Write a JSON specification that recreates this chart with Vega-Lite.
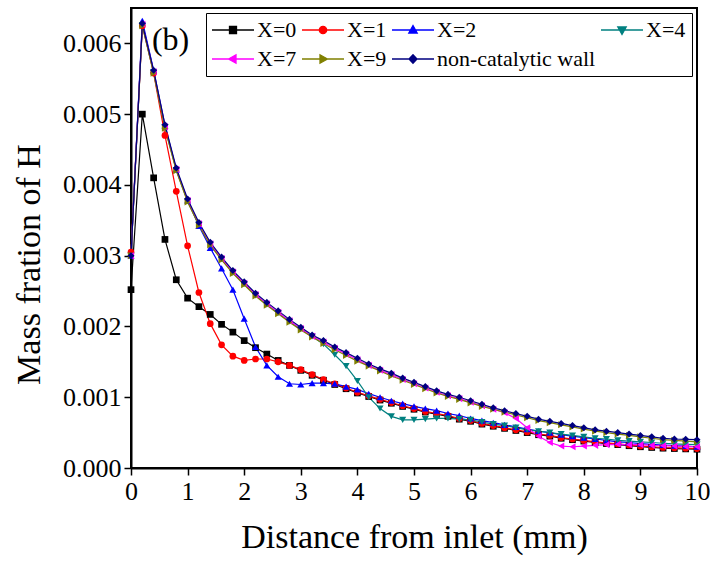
{
"$schema": "https://vega.github.io/schema/vega-lite/v6.json",
"width": 566, "height": 460,
"autosize": {"type": "none"},
"padding": {"left": 131, "top": 8, "right": 13, "bottom": 97},
"background": "white",
"config": {
 "view": {"stroke": "black", "strokeWidth": 2},
 "font": "Liberation Serif",
 "axis": {"grid": false, "domainColor": "black", "domainWidth": 2, "tickColor": "black", "tickWidth": 1.5, "labelColor": "black", "labelFont": "Liberation Serif", "labelFontSize": 26, "labelFlush": false, "labelOverlap": false, "titleFont": "Liberation Serif", "titleFontSize": 34, "titleFontWeight": "normal", "titleColor": "black"},
 "legend": {"orient": "top-right", "offset": 5, "direction": "horizontal", "columns": 4, "gridAlign": "none", "strokeColor": "black", "strokeWidth": 1, "fillColor": "white", "padding": 6, "labelFont": "Liberation Serif", "labelFontSize": 22, "labelColor": "black", "labelLimit": 300, "symbolSize": 400, "symbolStrokeWidth": 1.3, "labelOffset": 23, "columnPadding": 2, "rowPadding": 7}
},
"datasets": {
"main": [
{"s":"X=0","x":0,"y":0.00252},{"s":"X=0","x":0.2,"y":0.005},{"s":"X=0","x":0.4,"y":0.0041},{"s":"X=0","x":0.6,"y":0.00323},{"s":"X=0","x":0.8,"y":0.00266},{"s":"X=0","x":1,"y":0.0024},{"s":"X=0","x":1.2,"y":0.00228},{"s":"X=0","x":1.4,"y":0.00217},{"s":"X=0","x":1.6,"y":0.00203},{"s":"X=0","x":1.8,"y":0.00192},{"s":"X=0","x":2,"y":0.0018},{"s":"X=0","x":2.2,"y":0.0017},{"s":"X=0","x":2.4,"y":0.00161},{"s":"X=0","x":2.6,"y":0.00152},{"s":"X=0","x":2.8,"y":0.00145},{"s":"X=0","x":3,"y":0.00138},{"s":"X=0","x":3.2,"y":0.00131},{"s":"X=0","x":3.4,"y":0.00124},{"s":"X=0","x":3.6,"y":0.00118},{"s":"X=0","x":3.8,"y":0.00112},{"s":"X=0","x":4,"y":0.00106},{"s":"X=0","x":4.2,"y":0.00101},{"s":"X=0","x":4.4,"y":0.00096},{"s":"X=0","x":4.6,"y":0.000915},{"s":"X=0","x":4.8,"y":0.00087},{"s":"X=0","x":5,"y":0.00083},{"s":"X=0","x":5.2,"y":0.00079},{"s":"X=0","x":5.4,"y":0.00076},{"s":"X=0","x":5.6,"y":0.00073},{"s":"X=0","x":5.8,"y":0.00069},{"s":"X=0","x":6,"y":0.00066},{"s":"X=0","x":6.2,"y":0.00062},{"s":"X=0","x":6.4,"y":0.00059},{"s":"X=0","x":6.6,"y":0.00056},{"s":"X=0","x":6.8,"y":0.00053},{"s":"X=0","x":7,"y":0.0005},{"s":"X=0","x":7.2,"y":0.00047},{"s":"X=0","x":7.4,"y":0.00045},{"s":"X=0","x":7.6,"y":0.00042},{"s":"X=0","x":7.8,"y":0.0004},{"s":"X=0","x":8,"y":0.00038},{"s":"X=0","x":8.2,"y":0.00036},{"s":"X=0","x":8.4,"y":0.000345},{"s":"X=0","x":8.6,"y":0.00033},{"s":"X=0","x":8.8,"y":0.000315},{"s":"X=0","x":9,"y":0.0003},{"s":"X=0","x":9.2,"y":0.00029},{"s":"X=0","x":9.4,"y":0.00028},{"s":"X=0","x":9.6,"y":0.000275},{"s":"X=0","x":9.8,"y":0.00027},{"s":"X=0","x":10,"y":0.000265},
{"s":"X=1","x":0,"y":0.00305},{"s":"X=1","x":0.2,"y":0.00625},{"s":"X=1","x":0.4,"y":0.00558},{"s":"X=1","x":0.6,"y":0.0047},{"s":"X=1","x":0.8,"y":0.00391},{"s":"X=1","x":1,"y":0.00314},{"s":"X=1","x":1.2,"y":0.00248},{"s":"X=1","x":1.4,"y":0.00204},{"s":"X=1","x":1.6,"y":0.00174},{"s":"X=1","x":1.8,"y":0.00158},{"s":"X=1","x":2,"y":0.00152},{"s":"X=1","x":2.2,"y":0.00154},{"s":"X=1","x":2.4,"y":0.00154},{"s":"X=1","x":2.6,"y":0.0015},{"s":"X=1","x":2.8,"y":0.00145},{"s":"X=1","x":3,"y":0.00139},{"s":"X=1","x":3.2,"y":0.00132},{"s":"X=1","x":3.4,"y":0.00125},{"s":"X=1","x":3.6,"y":0.00119},{"s":"X=1","x":3.8,"y":0.00113},{"s":"X=1","x":4,"y":0.00107},{"s":"X=1","x":4.2,"y":0.00102},{"s":"X=1","x":4.4,"y":0.00097},{"s":"X=1","x":4.6,"y":0.000925},{"s":"X=1","x":4.8,"y":0.00088},{"s":"X=1","x":5,"y":0.00084},{"s":"X=1","x":5.2,"y":0.0008},{"s":"X=1","x":5.4,"y":0.00077},{"s":"X=1","x":5.6,"y":0.00074},{"s":"X=1","x":5.8,"y":0.0007},{"s":"X=1","x":6,"y":0.00067},{"s":"X=1","x":6.2,"y":0.00063},{"s":"X=1","x":6.4,"y":0.0006},{"s":"X=1","x":6.6,"y":0.00057},{"s":"X=1","x":6.8,"y":0.00054},{"s":"X=1","x":7,"y":0.00051},{"s":"X=1","x":7.2,"y":0.00048},{"s":"X=1","x":7.4,"y":0.00046},{"s":"X=1","x":7.6,"y":0.00043},{"s":"X=1","x":7.8,"y":0.00041},{"s":"X=1","x":8,"y":0.00039},{"s":"X=1","x":8.2,"y":0.00037},{"s":"X=1","x":8.4,"y":0.000355},{"s":"X=1","x":8.6,"y":0.00034},{"s":"X=1","x":8.8,"y":0.000325},{"s":"X=1","x":9,"y":0.00031},{"s":"X=1","x":9.2,"y":0.0003},{"s":"X=1","x":9.4,"y":0.00029},{"s":"X=1","x":9.6,"y":0.000285},{"s":"X=1","x":9.8,"y":0.00028},{"s":"X=1","x":10,"y":0.000275},
{"s":"X=2","x":0,"y":0.003},{"s":"X=2","x":0.2,"y":0.00632},{"s":"X=2","x":0.4,"y":0.00562},{"s":"X=2","x":0.6,"y":0.00484},{"s":"X=2","x":0.8,"y":0.00422},{"s":"X=2","x":1,"y":0.00378},{"s":"X=2","x":1.2,"y":0.00342},{"s":"X=2","x":1.4,"y":0.00311},{"s":"X=2","x":1.6,"y":0.00282},{"s":"X=2","x":1.8,"y":0.00252},{"s":"X=2","x":2,"y":0.00211},{"s":"X=2","x":2.2,"y":0.00171},{"s":"X=2","x":2.4,"y":0.00145},{"s":"X=2","x":2.6,"y":0.00129},{"s":"X=2","x":2.8,"y":0.00119},{"s":"X=2","x":3,"y":0.00118},{"s":"X=2","x":3.2,"y":0.0012},{"s":"X=2","x":3.4,"y":0.0012},{"s":"X=2","x":3.6,"y":0.00119},{"s":"X=2","x":3.8,"y":0.00115},{"s":"X=2","x":4,"y":0.00111},{"s":"X=2","x":4.2,"y":0.00105},{"s":"X=2","x":4.4,"y":0.001},{"s":"X=2","x":4.6,"y":0.00095},{"s":"X=2","x":4.8,"y":0.00091},{"s":"X=2","x":5,"y":0.00087},{"s":"X=2","x":5.2,"y":0.00084},{"s":"X=2","x":5.4,"y":0.00081},{"s":"X=2","x":5.6,"y":0.00077},{"s":"X=2","x":5.8,"y":0.00074},{"s":"X=2","x":6,"y":0.0007},{"s":"X=2","x":6.2,"y":0.00067},{"s":"X=2","x":6.4,"y":0.00064},{"s":"X=2","x":6.6,"y":0.00061},{"s":"X=2","x":6.8,"y":0.00058},{"s":"X=2","x":7,"y":0.00055},{"s":"X=2","x":7.2,"y":0.00052},{"s":"X=2","x":7.4,"y":0.0005},{"s":"X=2","x":7.6,"y":0.00047},{"s":"X=2","x":7.8,"y":0.00045},{"s":"X=2","x":8,"y":0.00043},{"s":"X=2","x":8.2,"y":0.00041},{"s":"X=2","x":8.4,"y":0.00039},{"s":"X=2","x":8.6,"y":0.00037},{"s":"X=2","x":8.8,"y":0.00036},{"s":"X=2","x":9,"y":0.000345},{"s":"X=2","x":9.2,"y":0.000335},{"s":"X=2","x":9.4,"y":0.000325},{"s":"X=2","x":9.6,"y":0.000315},{"s":"X=2","x":9.8,"y":0.00031},{"s":"X=2","x":10,"y":0.0003},
{"s":"X=4","x":0,"y":0.003},{"s":"X=4","x":0.2,"y":0.00626},{"s":"X=4","x":0.4,"y":0.00559},{"s":"X=4","x":0.6,"y":0.00481},{"s":"X=4","x":0.8,"y":0.00421},{"s":"X=4","x":1,"y":0.00377},{"s":"X=4","x":1.2,"y":0.00344},{"s":"X=4","x":1.4,"y":0.00316},{"s":"X=4","x":1.6,"y":0.00295},{"s":"X=4","x":1.8,"y":0.00276},{"s":"X=4","x":2,"y":0.0026},{"s":"X=4","x":2.2,"y":0.00244},{"s":"X=4","x":2.4,"y":0.00231},{"s":"X=4","x":2.6,"y":0.00219},{"s":"X=4","x":2.8,"y":0.00207},{"s":"X=4","x":3,"y":0.00196},{"s":"X=4","x":3.2,"y":0.00186},{"s":"X=4","x":3.4,"y":0.00175},{"s":"X=4","x":3.6,"y":0.0016},{"s":"X=4","x":3.8,"y":0.00144},{"s":"X=4","x":4,"y":0.00123},{"s":"X=4","x":4.2,"y":0.001},{"s":"X=4","x":4.4,"y":0.00084},{"s":"X=4","x":4.6,"y":0.00073},{"s":"X=4","x":4.8,"y":0.00068},{"s":"X=4","x":5,"y":0.00068},{"s":"X=4","x":5.2,"y":0.00069},{"s":"X=4","x":5.4,"y":0.0007},{"s":"X=4","x":5.6,"y":0.0007},{"s":"X=4","x":5.8,"y":0.00069},{"s":"X=4","x":6,"y":0.00068},{"s":"X=4","x":6.2,"y":0.00065},{"s":"X=4","x":6.4,"y":0.00062},{"s":"X=4","x":6.6,"y":0.0006},{"s":"X=4","x":6.8,"y":0.00057},{"s":"X=4","x":7,"y":0.00054},{"s":"X=4","x":7.2,"y":0.00052},{"s":"X=4","x":7.4,"y":0.0005},{"s":"X=4","x":7.6,"y":0.00048},{"s":"X=4","x":7.8,"y":0.00046},{"s":"X=4","x":8,"y":0.00044},{"s":"X=4","x":8.2,"y":0.00042},{"s":"X=4","x":8.4,"y":0.00041},{"s":"X=4","x":8.6,"y":0.00039},{"s":"X=4","x":8.8,"y":0.00038},{"s":"X=4","x":9,"y":0.00037},{"s":"X=4","x":9.2,"y":0.00036},{"s":"X=4","x":9.4,"y":0.00035},{"s":"X=4","x":9.6,"y":0.00034},{"s":"X=4","x":9.8,"y":0.000335},{"s":"X=4","x":10,"y":0.00033},
{"s":"X=7","x":0,"y":0.003},{"s":"X=7","x":0.2,"y":0.00627},{"s":"X=7","x":0.4,"y":0.0056},{"s":"X=7","x":0.6,"y":0.00482},{"s":"X=7","x":0.8,"y":0.00422},{"s":"X=7","x":1,"y":0.00378},{"s":"X=7","x":1.2,"y":0.00345},{"s":"X=7","x":1.4,"y":0.00317},{"s":"X=7","x":1.6,"y":0.00296},{"s":"X=7","x":1.8,"y":0.00277},{"s":"X=7","x":2,"y":0.00261},{"s":"X=7","x":2.2,"y":0.00245},{"s":"X=7","x":2.4,"y":0.00232},{"s":"X=7","x":2.6,"y":0.0022},{"s":"X=7","x":2.8,"y":0.00208},{"s":"X=7","x":3,"y":0.00197},{"s":"X=7","x":3.2,"y":0.00186},{"s":"X=7","x":3.4,"y":0.00178},{"s":"X=7","x":3.6,"y":0.00169},{"s":"X=7","x":3.8,"y":0.00161},{"s":"X=7","x":4,"y":0.00153},{"s":"X=7","x":4.2,"y":0.00145},{"s":"X=7","x":4.4,"y":0.00138},{"s":"X=7","x":4.6,"y":0.00132},{"s":"X=7","x":4.8,"y":0.00125},{"s":"X=7","x":5,"y":0.00119},{"s":"X=7","x":5.2,"y":0.00113},{"s":"X=7","x":5.4,"y":0.00107},{"s":"X=7","x":5.6,"y":0.00102},{"s":"X=7","x":5.8,"y":0.00098},{"s":"X=7","x":6,"y":0.00093},{"s":"X=7","x":6.2,"y":0.00088},{"s":"X=7","x":6.4,"y":0.00083},{"s":"X=7","x":6.6,"y":0.00078},{"s":"X=7","x":6.8,"y":0.0007},{"s":"X=7","x":7,"y":0.00057},{"s":"X=7","x":7.2,"y":0.00045},{"s":"X=7","x":7.4,"y":0.00036},{"s":"X=7","x":7.6,"y":0.00031},{"s":"X=7","x":7.8,"y":0.0003},{"s":"X=7","x":8,"y":0.00031},{"s":"X=7","x":8.2,"y":0.00032},{"s":"X=7","x":8.4,"y":0.00033},{"s":"X=7","x":8.6,"y":0.000335},{"s":"X=7","x":8.8,"y":0.00033},{"s":"X=7","x":9,"y":0.00033},{"s":"X=7","x":9.2,"y":0.00032},{"s":"X=7","x":9.4,"y":0.000315},{"s":"X=7","x":9.6,"y":0.00031},{"s":"X=7","x":9.8,"y":0.000305},{"s":"X=7","x":10,"y":0.0003},
{"s":"X=9","x":0,"y":0.003},{"s":"X=9","x":0.2,"y":0.00625},{"s":"X=9","x":0.4,"y":0.00558},{"s":"X=9","x":0.6,"y":0.0048},{"s":"X=9","x":0.8,"y":0.0042},{"s":"X=9","x":1,"y":0.00376},{"s":"X=9","x":1.2,"y":0.00343},{"s":"X=9","x":1.4,"y":0.00315},{"s":"X=9","x":1.6,"y":0.00294},{"s":"X=9","x":1.8,"y":0.00275},{"s":"X=9","x":2,"y":0.00259},{"s":"X=9","x":2.2,"y":0.00243},{"s":"X=9","x":2.4,"y":0.0023},{"s":"X=9","x":2.6,"y":0.00218},{"s":"X=9","x":2.8,"y":0.00206},{"s":"X=9","x":3,"y":0.00195},{"s":"X=9","x":3.2,"y":0.00185},{"s":"X=9","x":3.4,"y":0.00176},{"s":"X=9","x":3.6,"y":0.00167},{"s":"X=9","x":3.8,"y":0.00159},{"s":"X=9","x":4,"y":0.00151},{"s":"X=9","x":4.2,"y":0.00144},{"s":"X=9","x":4.4,"y":0.00137},{"s":"X=9","x":4.6,"y":0.0013},{"s":"X=9","x":4.8,"y":0.00124},{"s":"X=9","x":5,"y":0.00118},{"s":"X=9","x":5.2,"y":0.00112},{"s":"X=9","x":5.4,"y":0.00106},{"s":"X=9","x":5.6,"y":0.00101},{"s":"X=9","x":5.8,"y":0.00097},{"s":"X=9","x":6,"y":0.00092},{"s":"X=9","x":6.2,"y":0.00087},{"s":"X=9","x":6.4,"y":0.00083},{"s":"X=9","x":6.6,"y":0.00079},{"s":"X=9","x":6.8,"y":0.00075},{"s":"X=9","x":7,"y":0.00071},{"s":"X=9","x":7.2,"y":0.00067},{"s":"X=9","x":7.4,"y":0.00064},{"s":"X=9","x":7.6,"y":0.00061},{"s":"X=9","x":7.8,"y":0.00058},{"s":"X=9","x":8,"y":0.00055},{"s":"X=9","x":8.2,"y":0.00052},{"s":"X=9","x":8.4,"y":0.0005},{"s":"X=9","x":8.6,"y":0.00048},{"s":"X=9","x":8.8,"y":0.00046},{"s":"X=9","x":9,"y":0.00044},{"s":"X=9","x":9.2,"y":0.00042},{"s":"X=9","x":9.4,"y":0.0004},{"s":"X=9","x":9.6,"y":0.00039},{"s":"X=9","x":9.8,"y":0.00038},{"s":"X=9","x":10,"y":0.00037},
{"s":"non-catalytic wall","x":0,"y":0.003},{"s":"non-catalytic wall","x":0.2,"y":0.00628},{"s":"non-catalytic wall","x":0.4,"y":0.00562},{"s":"non-catalytic wall","x":0.6,"y":0.00485},{"s":"non-catalytic wall","x":0.8,"y":0.00424},{"s":"non-catalytic wall","x":1,"y":0.0038},{"s":"non-catalytic wall","x":1.2,"y":0.00347},{"s":"non-catalytic wall","x":1.4,"y":0.00319},{"s":"non-catalytic wall","x":1.6,"y":0.00298},{"s":"non-catalytic wall","x":1.8,"y":0.00279},{"s":"non-catalytic wall","x":2,"y":0.00263},{"s":"non-catalytic wall","x":2.2,"y":0.00247},{"s":"non-catalytic wall","x":2.4,"y":0.00234},{"s":"non-catalytic wall","x":2.6,"y":0.00222},{"s":"non-catalytic wall","x":2.8,"y":0.0021},{"s":"non-catalytic wall","x":3,"y":0.00199},{"s":"non-catalytic wall","x":3.2,"y":0.00188},{"s":"non-catalytic wall","x":3.4,"y":0.0018},{"s":"non-catalytic wall","x":3.6,"y":0.00171},{"s":"non-catalytic wall","x":3.8,"y":0.00163},{"s":"non-catalytic wall","x":4,"y":0.00155},{"s":"non-catalytic wall","x":4.2,"y":0.00147},{"s":"non-catalytic wall","x":4.4,"y":0.0014},{"s":"non-catalytic wall","x":4.6,"y":0.00134},{"s":"non-catalytic wall","x":4.8,"y":0.00127},{"s":"non-catalytic wall","x":5,"y":0.00121},{"s":"non-catalytic wall","x":5.2,"y":0.00115},{"s":"non-catalytic wall","x":5.4,"y":0.00109},{"s":"non-catalytic wall","x":5.6,"y":0.00104},{"s":"non-catalytic wall","x":5.8,"y":0.001},{"s":"non-catalytic wall","x":6,"y":0.00095},{"s":"non-catalytic wall","x":6.2,"y":0.0009},{"s":"non-catalytic wall","x":6.4,"y":0.00085},{"s":"non-catalytic wall","x":6.6,"y":0.00081},{"s":"non-catalytic wall","x":6.8,"y":0.00077},{"s":"non-catalytic wall","x":7,"y":0.00073},{"s":"non-catalytic wall","x":7.2,"y":0.00069},{"s":"non-catalytic wall","x":7.4,"y":0.00066},{"s":"non-catalytic wall","x":7.6,"y":0.00063},{"s":"non-catalytic wall","x":7.8,"y":0.0006},{"s":"non-catalytic wall","x":8,"y":0.00057},{"s":"non-catalytic wall","x":8.2,"y":0.00054},{"s":"non-catalytic wall","x":8.4,"y":0.00052},{"s":"non-catalytic wall","x":8.6,"y":0.0005},{"s":"non-catalytic wall","x":8.8,"y":0.00048},{"s":"non-catalytic wall","x":9,"y":0.00046},{"s":"non-catalytic wall","x":9.2,"y":0.00044},{"s":"non-catalytic wall","x":9.4,"y":0.00042},{"s":"non-catalytic wall","x":9.6,"y":0.00041},{"s":"non-catalytic wall","x":9.8,"y":0.000405},{"s":"non-catalytic wall","x":10,"y":0.0004}
],
"ann": [{"x": 0.7, "y": 0.00605, "t": "(b)"}]
},
"layer": [
 {"data": {"name": "main"},
  "transform": [{"filter": "datum.x < 0"}],
  "mark": {"type": "point", "filled": true, "opacity": 1, "strokeWidth": 1.3},
  "encoding": {
   "x": {"field": "x", "type": "quantitative", "scale": {"domain": [0, 10], "nice": false, "padding": 0, "zero": false},
     "axis": {"title": "Distance from inlet (mm)", "values": [0,0.5,1,1.5,2,2.5,3,3.5,4,4.5,5,5.5,6,6.5,7,7.5,8,8.5,9,9.5,10], "format": ".0f", "labelExpr": "datum.value % 1 === 0 ? datum.label : ''", "tickSize": {"condition": {"test": "datum.value % 1 === 0", "value": 7}, "value": 4}, "labelPadding": 3, "titlePadding": 16}},
   "y": {"field": "y", "type": "quantitative", "scale": {"domain": [0, 0.0065], "nice": false, "padding": 0},
     "axis": {"title": "Mass fration of H", "values": [0,0.0005,0.001,0.0015,0.002,0.0025,0.003,0.0035,0.004,0.0045,0.005,0.0055,0.006], "format": ".3f", "labelExpr": "round(datum.value*2000) % 2 === 0 ? datum.label : ''", "tickSize": {"condition": {"test": "round(datum.value*2000) % 2 === 0", "value": 7}, "value": 4}, "labelPadding": 3, "titlePadding": 16, "titleY": 256}},
   "fill": {"field": "s", "type": "nominal", "title": null,
     "scale": {"domain": ["X=0","X=1","X=2","X=4","X=7","X=9","non-catalytic wall"], "range": ["#000000","#ff0000","#0000ff","#008080","#ff00ff","#808000","#000080"]},
     "legend": {"title": null, "gridAlign": "none", "columns": 4, "direction": "horizontal", "labelLimit": 300}},
   "stroke": {"field": "s", "type": "nominal", "title": null,
     "scale": {"domain": ["X=0","X=1","X=2","X=4","X=7","X=9","non-catalytic wall"], "range": ["#000000","#ff0000","#0000ff","#008080","#ff00ff","#808000","#000080"]},
     "legend": {"title": null, "gridAlign": "none", "columns": 4, "direction": "horizontal", "labelLimit": 300}},
   "shape": {"field": "s", "type": "nominal", "title": null,
     "scale": {"domain": ["X=0","X=1","X=2","X=4","X=7","X=9","non-catalytic wall"],
       "range": ["M-1.1,0H3.1M0.65,-0.35H1.35V0.35H0.65Z",
                 "M-1.1,0H3.1M0.63,0A0.37,0.37 0 1,0 1.37,0A0.37,0.37 0 1,0 0.63,0Z",
                 "M-1.1,0H3.1M1.0,-0.45L1.42,0.3L0.58,0.3Z",
                 "M-1.1,0H3.1M1.0,0.45L1.42,-0.3L0.58,-0.3Z",
                 "M-1.1,0H3.1M0.55,0L1.3,-0.42L1.3,0.42Z",
                 "M-1.1,0H3.1M1.45,0L0.7,-0.42L0.7,0.42Z",
                 "M-1.1,0H3.1M1.0,-0.42L1.4,0L1.0,0.42L0.6,0Z"]},
     "legend": {"title": null, "gridAlign": "none", "columns": 4, "direction": "horizontal", "labelLimit": 300}}
  }},
 {"data": {"name": "main"},
  "mark": {"type": "line", "strokeWidth": 1.2},
  "encoding": {
   "x": {"field": "x", "type": "quantitative"},
   "y": {"field": "y", "type": "quantitative"},
   "color": {"field": "s", "type": "nominal", "legend": null,
     "scale": {"domain": ["X=0","X=1","X=2","X=4","X=7","X=9","non-catalytic wall"], "range": ["#000000","#ff0000","#0000ff","#008080","#ff00ff","#808000","#000080"]}}
  }},
 {"data": {"name": "main"}, "transform": [{"filter": "datum.s === 'X=0'"}],
  "mark": {"type": "point", "filled": true, "shape": "square", "size": 45, "opacity": 1},
  "encoding": {"x": {"field": "x", "type": "quantitative"}, "y": {"field": "y", "type": "quantitative"}, "color": {"field": "s", "type": "nominal", "legend": null}}},
 {"data": {"name": "main"}, "transform": [{"filter": "datum.s === 'X=1'"}],
  "mark": {"type": "point", "filled": true, "shape": "circle", "size": 45, "opacity": 1},
  "encoding": {"x": {"field": "x", "type": "quantitative"}, "y": {"field": "y", "type": "quantitative"}, "color": {"field": "s", "type": "nominal", "legend": null}}},
 {"data": {"name": "main"}, "transform": [{"filter": "datum.s === 'X=2'"}],
  "mark": {"type": "point", "filled": true, "shape": "triangle-up", "size": 50, "opacity": 1},
  "encoding": {"x": {"field": "x", "type": "quantitative"}, "y": {"field": "y", "type": "quantitative"}, "color": {"field": "s", "type": "nominal", "legend": null}}},
 {"data": {"name": "main"}, "transform": [{"filter": "datum.s === 'X=4'"}],
  "mark": {"type": "point", "filled": true, "shape": "triangle-down", "size": 50, "opacity": 1},
  "encoding": {"x": {"field": "x", "type": "quantitative"}, "y": {"field": "y", "type": "quantitative"}, "color": {"field": "s", "type": "nominal", "legend": null}}},
 {"data": {"name": "main"}, "transform": [{"filter": "datum.s === 'X=7'"}],
  "mark": {"type": "point", "filled": true, "shape": "triangle-left", "size": 50, "opacity": 1},
  "encoding": {"x": {"field": "x", "type": "quantitative"}, "y": {"field": "y", "type": "quantitative"}, "color": {"field": "s", "type": "nominal", "legend": null}}},
 {"data": {"name": "main"}, "transform": [{"filter": "datum.s === 'X=9'"}],
  "mark": {"type": "point", "filled": true, "shape": "triangle-right", "size": 50, "opacity": 1},
  "encoding": {"x": {"field": "x", "type": "quantitative"}, "y": {"field": "y", "type": "quantitative"}, "color": {"field": "s", "type": "nominal", "legend": null}}},
 {"data": {"name": "main"}, "transform": [{"filter": "datum.s === 'non-catalytic wall'"}],
  "mark": {"type": "point", "filled": true, "shape": "diamond", "size": 50, "opacity": 1},
  "encoding": {"x": {"field": "x", "type": "quantitative"}, "y": {"field": "y", "type": "quantitative"}, "color": {"field": "s", "type": "nominal", "legend": null}}},
 {"data": {"name": "ann"},
  "mark": {"type": "text", "font": "Liberation Serif", "fontSize": 32, "color": "black"},
  "encoding": {
   "x": {"field": "x", "type": "quantitative"},
   "y": {"field": "y", "type": "quantitative"},
   "text": {"field": "t"}
  }}
]
}
